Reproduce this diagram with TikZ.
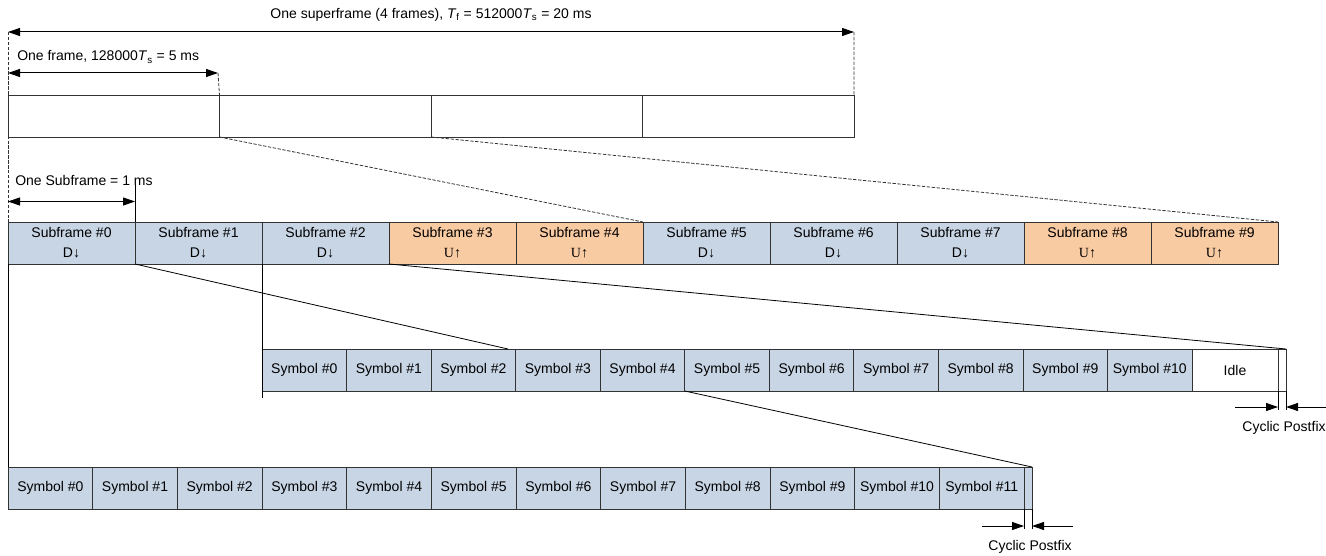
\documentclass[tikz,border=0pt]{standalone}
\usepackage{fontspec}
\setmainfont{Liberation Sans}
\newfontfamily\serifu{Liberation Serif}
\usepackage{xcolor}
\usepackage{tikz}
\usetikzlibrary{arrows.meta,positioning}

\definecolor{dlblue}{HTML}{C8D5E5}
\definecolor{ulorange}{HTML}{F9CBA2}
\definecolor{edge}{HTML}{333333}

\newcommand{\dlmark}{D\textdownarrow}
\newcommand{\ulmark}{{\serifu U\textuparrow}}

\tikzset{
  cell/.style={draw=edge,line width=0.7pt,inner sep=0pt,outer sep=0pt,anchor=north west,
    minimum height=31.5pt,align=center,font=\fontsize{10.5}{15}\selectfont},
  framebox/.style={cell,minimum width=158.6pt},
  sfbox/.style={cell,minimum width=95.25pt},
  symbox/.style={cell,fill=dlblue,minimum width=63.45pt},
  dl/.style={fill=dlblue},
  ul/.style={fill=ulorange},
  span/.style={line width=0.75pt,{Triangle[length=9pt,width=6pt]}-{Triangle[length=9pt,width=6pt]}},
  pointer/.style={line width=0.7pt,-{Triangle[length=9pt,width=6pt]}},
  guide/.style={edge,line width=0.6pt,dash pattern=on 2.5pt off 1.2pt},
  link/.style={black,line width=0.6pt},
  lbl/.style={font=\fontsize{10.5}{12}\selectfont,inner sep=0pt}
}

\begin{document}
\begin{tikzpicture}[x=0.75pt,y=-0.75pt]
  \useasboundingbox (0,0) rectangle (1326,556);
  % frames
  \foreach \i in {0,...,3}
    \node[framebox] (f\i) at ({8+211.5*\i},95) {};
  % subframes
  \foreach \i/\t/\m in {0/dl/\dlmark,1/dl/\dlmark,2/dl/\dlmark,3/ul/\ulmark,4/ul/\ulmark,
      5/dl/\dlmark,6/dl/\dlmark,7/dl/\dlmark,8/ul/\ulmark,9/ul/\ulmark}
    \node[sfbox,\t] (sf\i) at ({8+127*\i},222) {Subframe \#\i\\\m};
  % symbols of one subframe, 11 symbols + idle
  \foreach \i in {0,...,10}
    \node[symbox] (sa\i) at ({262+84.55*\i},349) {Symbol \#\i};
  \node[cell,minimum width=64.5pt] (idle) at (1192,349) {Idle};
  \node[cell,minimum width=6pt] (cpa) at (1278,349) {};
  % symbols of one subframe, 12 symbols
  \foreach \i in {0,...,11}
    \node[symbox,minimum width=63.5pt] (sb\i) at ({8+84.67*\i},467) {Symbol \#\i};
  \node[cell,fill=dlblue,minimum width=6pt] (cpb) at (1024,467) {};

  % superframe and frame spans
  \coordinate (supL) at (8,32);
  \coordinate (supR) at (854,32);
  \coordinate (frL) at (8,73);
  \coordinate (frR) at (218,73);
  \draw[span] (supL) -- (supR);
  \node[lbl] (suplbl) at (431,15) {One superframe (4 frames), \textit{T}\textsubscript{f} = 512000\textit{T}\textsubscript{s} = 20 ms};
  \draw[span] (frL) -- (frR);
  \node[lbl,anchor=west] (frlbl) at (17,57) {One frame, 128000\textit{T}\textsubscript{s} = 5 ms};
  \draw[guide] (supL) -- (sf0.north west);
  \draw[guide] (supR) -- (f3.north east);
  \draw[guide] (frR) -- (f0.north east);
  \draw[guide] (f1.south west) -- (sf4.north east);
  \draw[guide] (f2.south west) -- (sf9.north east);

  % subframe span
  \coordinate (sfL) at (8,201.5);
  \coordinate (sfR) at (135,201.5);
  \coordinate (sfT) at (135,185);
  \draw[span] (sfL) -- (sfR);
  \node[lbl,anchor=west] (sflbl) at (15,180) {One Subframe = 1 ms};
  \draw[link] (sfT) -- (sf0.north east);

  % zoom lines to the symbol rows
  \coordinate (sym2) at (508,349);
  \coordinate (rowaB) at (262,398);
  \draw[link] (sf1.south west) -- (sym2);
  \draw[link] (sf3.south west) -- (cpa.north east);
  \draw[link] (sf2.south west) -- (rowaB);
  \draw[link] (sf0.south west) -- (sb0.north west);
  \draw[link] (sa5.south west) -- (cpb.north east);

  % cyclic postfix, upper row
  \coordinate (cpaL) at (1278,410);
  \coordinate (cpaR) at (1286,410);
  \coordinate (cpaIn) at (1235,407);
  \coordinate (cpaOut) at (1326,407);
  \draw[link] (cpa.south west) -- (cpaL);
  \draw[link] (cpa.south east) -- (cpaR);
  \draw[pointer] (cpaIn) -- (cpaIn -| cpaL);
  \draw[pointer] (cpaOut) -- (cpaOut -| cpaR);
  \node[lbl] (cpalbl) at (1284,428) {Cyclic Postfix};

  % cyclic postfix, lower row
  \coordinate (cpbL) at (1024,529);
  \coordinate (cpbR) at (1032,529);
  \coordinate (cpbIn) at (982,526);
  \coordinate (cpbOut) at (1073,526);
  \draw[link] (cpb.south west) -- (cpbL);
  \draw[link] (cpb.south east) -- (cpbR);
  \draw[pointer] (cpbIn) -- (cpbIn -| cpbL);
  \draw[pointer] (cpbOut) -- (cpbOut -| cpbR);
  \node[lbl] (cpblbl) at (1030,547) {Cyclic Postfix};
\end{tikzpicture}
\end{document}
